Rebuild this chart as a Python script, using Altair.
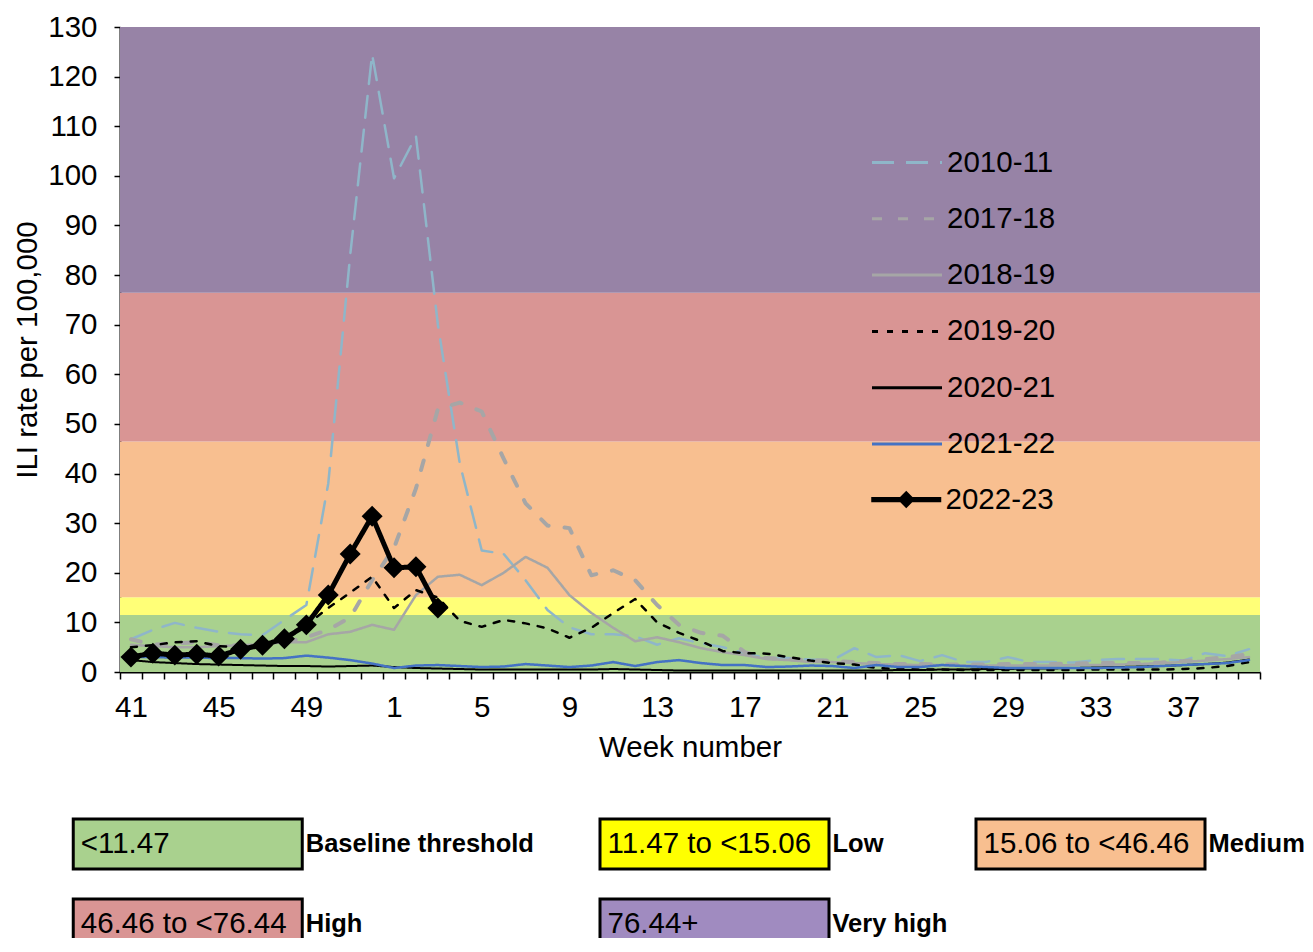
import json
import altair as alt
import pandas as pd

FONT = "Liberation Sans"

# ---------------- data ----------------
week_labels = list(range(41, 53)) + list(range(1, 41))
seasons = ["2010-11", "2017-18", "2018-19", "2019-20", "2020-21", "2021-22", "2022-23"]

s2010_11 = [6.6, 8.5, 9.9, 8.9, 8.1, 7.6, 7.4, 10.5, 13.5, 38, 84, 124.5,
            99.5, 108, 70, 42, 24.5, 23.8, 18.5, 12.5, 9, 7.6,
            7.6, 7.2, 5.5, 6.8, 5.8, 5.0, 3.8, 2.8, 2.8, 2.5,
            2.4, 4.8, 3.0, 3.4, 2.2, 3.4, 2.0, 2.0, 3.0, 2.0,
            2.0, 1.9, 2.4, 2.6, 2.6, 2.6, 2.3, 3.8, 3.2, 4.6]
s2017_18 = [6.6, 5.5, 5.8, 6.0, 5.4, 5.4, 5.6, 6.0, 7.0, 8.5, 11.0, 18.5,
            25, 37, 53, 54.3, 52.5, 43, 34, 29.5, 29, 19.5,
            20.5, 18.5, 13.5, 9.5, 7.9, 7.3, 4.0, 2.8, 2.6, 2.4,
            2.2, 2.0, 1.8, 1.6, 1.6, 1.5, 1.5, 1.5, 1.6, 1.6,
            1.6, 1.7, 1.8, 1.8, 1.8, 1.9, 2.2, 2.6, 3.0, 3.6]
s2018_19 = [5.5, 5.2, 5.0, 5.0, 5.2, 5.4, 5.6, 6.0, 6.0, 7.6, 8.1, 9.5,
            8.5, 15.5, 19.2, 19.6, 17.5, 20, 23.2, 21, 15.5, 11.9,
            8.9, 6.2, 7.0, 6.0, 4.8, 4.0, 3.4, 2.6, 2.4, 2.0,
            2.0, 1.8, 1.6, 1.5, 1.4, 1.4, 1.3, 1.3, 1.3, 1.3,
            1.3, 1.4, 1.4, 1.5, 1.6, 1.8, 2.0, 2.3, 2.6, 3.0]
s2019_20 = [5.0, 5.4, 6.0, 6.2, 5.2, 5.0, 5.5, 6.5, 9.5, 12.9, 16.0, 19.2,
            12.9, 16.5, 15.0, 10.3, 9.1, 10.5, 9.8, 8.8, 6.9, 8.9,
            11.9, 14.7, 10.0, 7.9, 6.2, 4.2, 3.8, 3.7, 3.0, 2.3,
            1.8, 1.5, 0.8, 0.6, 0.5, 0.5, 0.4, 0.4, 0.4, 0.4,
            0.4, 0.4, 0.5, 0.5, 0.5, 0.5, 0.6, 0.8, 1.2, 2.0]
s2020_21 = [2.4, 2.0, 1.8, 1.6, 1.5, 1.4, 1.3, 1.2, 1.2, 1.1, 1.2, 1.3,
            1.0, 0.8, 0.7, 0.6, 0.5, 0.5, 0.5, 0.5, 0.5, 0.5,
            0.6, 0.5, 0.4, 0.3, 0.3, 0.3, 0.3, 0.3, 0.3, 0.3,
            0.3, 0.3, 0.3, 0.4, 0.4, 0.5, 0.5, 0.6, 0.6, 0.7,
            0.7, 0.8, 0.9, 1.0, 1.1, 1.2, 1.4, 1.6, 1.9, 2.5]
s2021_22 = [3.0, 3.0, 2.9, 2.9, 2.8, 2.8, 2.7, 2.8, 3.3, 2.9, 2.4, 1.7,
            0.8, 1.3, 1.4, 1.2, 1.0, 1.1, 1.6, 1.3, 1.0, 1.3,
            2.0, 1.2, 2.0, 2.4, 1.8, 1.4, 1.4, 1.0, 1.1, 1.3,
            1.2, 0.8, 1.4, 1.0, 1.0, 1.4, 1.2, 1.0, 0.8, 0.8,
            0.8, 0.8, 0.8, 0.9, 1.0, 1.2, 1.4, 1.6, 1.8, 2.4]
s2022_23 = [3.0, 3.8, 3.4, 3.6, 3.2, 4.6, 5.4, 6.7, 9.5, 15.5, 23.8, 31.4,
            21.0, 21.2, 12.9]

series_values = [s2010_11, s2017_18, s2018_19, s2019_20, s2020_21, s2021_22, s2022_23]

band_names = ["Baseline threshold", "Low", "Medium", "High", "Very high"]
band_ranges = ["<11.47", "11.47 to <15.06", "15.06 to <46.46", "46.46 to <76.44", "76.44+"]
band_lo = [0, 11.47, 15.06, 46.46, 76.44]
band_hi = [11.47, 15.06, 46.46, 76.44, 130]

# ---------------- styles ----------------
band_fill = ["#A9D18E", "#FFFF77", "#F8BF90", "#D99594", "#9783A6"]
box_fill = ["#A9D18E", "#FFFF00", "#F8BF90", "#D99594", "#A08BC0"]
line_colors = ["#8FB6C9", "#A6A6A6", "#A6A6A6", "#000000", "#000000", "#4472C4", "#000000"]
line_dashes = [[22, 12], [10, 16], [1, 0], [6, 9], [1, 0], [1, 0], [1, 0]]
line_widths = [2.5, 4, 2.5, 2.5, 2, 2.5, 5]

n = len(week_labels)

rows = []
for season, vals, w in zip(seasons, series_values, line_widths):
    for i, v in enumerate(vals):
        rows.append({"idx": i, "week": week_labels[i], "season": season, "value": v, "sw": w})
line_df = pd.DataFrame(rows)
pts_df = line_df[line_df["season"] == seasons[-1]]

band_df = pd.DataFrame({"lo": band_lo, "hi": band_hi, "fill": band_fill})

box_df = pd.DataFrame({
    "range": band_ranges,
    "name": band_names,
    "fill": box_fill,
    "col": [i % 3 for i in range(len(band_names))],
    "row": [i // 3 for i in range(len(band_names))],
})

# ---------------- scales / axes ----------------
W, H = 1140, 645
half_step = W / n / 2
FS = 29.5

x_scale = alt.Scale(domain=[-0.5, n - 0.5], nice=False, zero=False)
y_scale = alt.Scale(domain=[0, 130], nice=False)

wk = json.dumps(week_labels)
x_axis = alt.Axis(
    values=[i - 0.5 for i in range(n + 1)],
    labelExpr=f"(datum.value + 0.5) % 4 === 0 && datum.value + 0.5 <= 48 ? '' + {wk}[datum.value + 0.5] : ''",
    labelOffset=half_step, labelOverlap=False, labelFlush=False, labelBound=False,
    tickSize=7, tickWidth=1.5, tickColor="black", domainColor="black", domainWidth=2,
    labelFont=FONT, labelFontSize=FS, labelColor="black", labelPadding=14,
    grid=False, title="Week number", titleFont=FONT, titleFontSize=FS,
    titleFontWeight="normal", titleColor="black", titlePadding=12,
)
y_axis = alt.Axis(
    values=list(range(0, 131, 10)), tickSize=6, tickWidth=1.5, tickColor="black",
    domainColor="black", domainWidth=2, labelFont=FONT, labelFontSize=FS,
    labelColor="black", labelPadding=17, grid=False,
    title="ILI rate per 100,000", titleFont=FONT, titleFontSize=FS,
    titleFontWeight="normal", titleColor="black", titlePadding=5,
)

LEG_X, LEG_Y, ROW_STEP = 771.5, 120, 56.3
series_legend = alt.Legend(
    orient="none", legendX=LEG_X, legendY=LEG_Y, title=None, padding=0,
    values=seasons[:-1],
    symbolType="M-2.5,0H2.5", symbolSize=784, symbolStrokeWidth=3,
    labelFont=FONT, labelFontSize=FS, labelColor="black", labelOffset=24.5,
    rowPadding=26.3, labelLimit=400,
)
marker_legend = alt.Legend(
    orient="none", legendX=LEG_X, legendY=LEG_Y + ROW_STEP * (len(seasons) - 1),
    title=None, padding=0, symbolSize=784,
    symbolFillColor="black", symbolStrokeColor="black", symbolStrokeWidth=0,
    symbolOpacity=1,
    labelFont=FONT, labelFontSize=FS, labelColor="black", labelOffset=24.5,
    labelLimit=400,
)

bands = alt.Chart(band_df).mark_rect().encode(
    x=alt.X(datum=-0.5, type="quantitative", scale=x_scale, axis=x_axis),
    x2=alt.X2(datum=n - 0.5),
    y=alt.Y("lo:Q", scale=y_scale, axis=y_axis),
    y2="hi:Q",
    fill=alt.Fill("fill:N", scale=None),
)

lines = alt.Chart(line_df).mark_line(strokeCap="round", strokeJoin="round").encode(
    x=alt.X("idx:Q", scale=x_scale, axis=x_axis),
    y=alt.Y("value:Q", scale=y_scale, axis=y_axis),
    color=alt.Color("season:N", scale=alt.Scale(domain=seasons, range=line_colors),
                    legend=series_legend),
    strokeDash=alt.StrokeDash("season:N", scale=alt.Scale(domain=seasons, range=line_dashes),
                              legend=series_legend),
    strokeWidth=alt.StrokeWidth("sw:Q", scale=None),
)

points = alt.Chart(pts_df).mark_point(shape="diamond", filled=True, size=440,
                                      color="black", opacity=1).encode(
    x=alt.X("idx:Q", scale=x_scale, axis=x_axis),
    y=alt.Y("value:Q", scale=y_scale, axis=y_axis),
)

# invisible layer that only provides the line-with-diamond legend entry
marker_key = alt.Chart(pts_df).mark_point(filled=True, opacity=0, color="black").encode(
    x=alt.X("idx:Q", scale=x_scale, axis=x_axis),
    y=alt.Y("value:Q", scale=y_scale, axis=y_axis),
    shape=alt.Shape("season:N", scale=alt.Scale(
        domain=[seasons[-1]],
        range=["M-2.5,-0.19H2.5V0.19H-2.5Z M0,-0.62L0.62,0L0,0.62L-0.62,0Z"]),
        legend=marker_legend),
)

main = alt.layer(bands, lines, points, marker_key)

# ---------------- bottom colour key ----------------
lx = alt.Scale(domain=[0, 1, 2], range=[67.75, 594.5, 970.5], nice=False, zero=False)
ly = alt.Scale(domain=[0, 1], range=[817, 897], nice=False, zero=False)

key_base = alt.Chart(box_df).encode(
    x=alt.X("col:Q", scale=lx, axis=None),
    y=alt.Y("row:Q", scale=ly, axis=None),
)
key_boxes = key_base.mark_rect(width=229, height=50, stroke="black", strokeWidth=3).encode(
    fill=alt.Fill("fill:N", scale=None))
key_range = key_base.mark_text(align="left", baseline="middle", dx=-107, font=FONT,
                               fontSize=29.5, color="black").encode(text="range:N")
key_name = key_base.mark_text(align="left", baseline="middle", dx=118, font=FONT,
                              fontSize=25.5, fontWeight="bold", color="black").encode(text="name:N")
key = alt.layer(key_boxes, key_range, key_name)

chart = alt.layer(main, key).resolve_scale(x="independent", y="independent").properties(
    width=W, height=H,
    padding={"left": 112, "top": 19, "right": 45, "bottom": 266},
    autosize=alt.AutoSizeParams(type="none"),
).configure_view(stroke="transparent")

chart.save("out.html", embed_options={"renderer": "svg", "actions": False})
